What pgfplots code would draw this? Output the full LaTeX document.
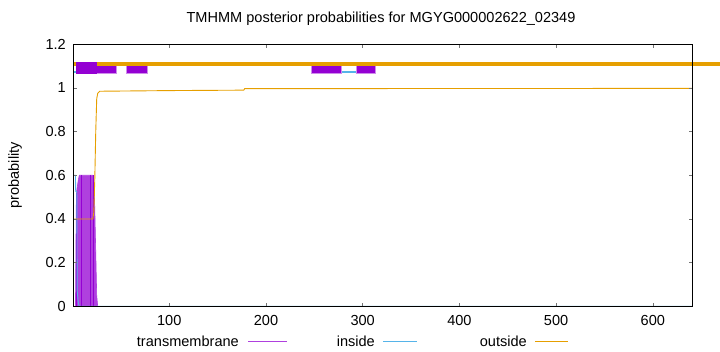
\documentclass[border=0pt]{standalone}
\usepackage{pgfplots}
\pgfplotsset{compat=1.18}
\usepackage{fontspec}
\setmainfont{Liberation Sans}
\definecolor{tmcol}{HTML}{AF40DE}
\definecolor{tmdark}{HTML}{9400D3}
\definecolor{incol}{HTML}{56B4E9}
\definecolor{outcol}{HTML}{E69F00}
\newcommand\f{\fontsize{14.6}{17.5}\selectfont}
\begin{document}
\begin{tikzpicture}[font=\f]
\path[use as bounding box] (-73.5bp,-45.7bp) rectangle (646.5bp,306.3bp);
\begin{axis}[
  at={(0,0)}, anchor=south west,
  scale only axis, width=619bp, height=262bp,
  xmin=1, xmax=641, ymin=0, ymax=1.2,
  xtick={100,200,300,400,500,600},
  ytick={0,0.2,0.4,0.6,0.8,1,1.2},
  tick align=inside, major tick length=3.5bp,
  tick style={black!55, line width=0.6bp},
  axis line style={black, line width=0.9bp},
  /pgf/number format/assume math mode=true,
  /pgf/number format/fixed,
  yticklabel style={inner sep=0pt, xshift=-7.5bp, font=\f},
  xticklabel style={inner sep=0pt, yshift=-9bp, font=\f},
  clip=false, axis on top=true,
]
% transmembrane posterior
\addplot[fill=tmcol, draw=tmcol, line width=0.6bp] coordinates {
 (3,0) (4,0.52) (5,0.55) (6,0.58) (7,0.6) (21,0.6) (22,0.58) (23,0.45) (24,0.25) (25,0.05) (26,0)
} \closedcycle;
\addplot[ycomb, draw=tmdark, line width=0.6bp] coordinates {(4.3,0.52) (9.4,0.6) (18.3,0.6) (21.5,0.6)};
\addplot[tmcol, line width=0.8bp] coordinates {(26,0) (641,0)};
% inside posterior
\addplot[incol, line width=0.9bp] coordinates {
 (1,0.6) (3,0.6) (3.3,0.526) (4.4,0.526) (4.8,0.07) (6,0.015) (7,0) (641,0)
};
% outside posterior
\addplot[outcol, line width=0.9bp] coordinates {
 (1,0.4) (4,0.4) (21,0.4) (22,0.43) (23,0.58) (24,0.8) (25,0.95) (26,0.975) (28,0.985) (100,0.988) (177,0.99) (178,0.997) (641,0.998)
};
% inside line at top
\addplot[incol, line width=2bp] coordinates {(1,1.073) (4.2,1.073)};
\addplot[incol, line width=2bp] coordinates {(277.5,1.073) (293.7,1.073)};
% TM boxes below the outside bar
\addplot[fill=tmdark, draw=tmcol!60, line width=0.6bp] coordinates {(24.2,1.069) (44.9,1.069) (44.9,1.102) (24.2,1.102)} --cycle;
\addplot[fill=tmdark, draw=tmcol!60, line width=0.6bp] coordinates {(55.9,1.069) (77.7,1.069) (77.7,1.102) (55.9,1.102)} --cycle;
\addplot[fill=tmdark, draw=tmcol!60, line width=0.6bp] coordinates {(246.5,1.069) (277.5,1.069) (277.5,1.102) (246.5,1.102)} --cycle;
\addplot[fill=tmdark, draw=tmcol!60, line width=0.6bp] coordinates {(293.7,1.069) (312.7,1.069) (312.7,1.102) (293.7,1.102)} --cycle;
% outside bar
\addplot[outcol, line width=4bp] coordinates {(1,1.111) (669.5,1.111)};
% predicted TM box
\addplot[fill=tmdark, draw=tmdark, line width=0.4bp] coordinates {(4.2,1.069) (24.2,1.069) (24.2,1.117) (4.2,1.117)} --cycle;
\end{axis}
% title and labels
\node[anchor=base] at (307.5bp,283.3bp) {TMHMM posterior probabilities for MGYG000002622\_02349};
\node[rotate=90] at (-58.5bp,131bp) {probability};
% legend
\node[anchor=base east, inner sep=0pt] at (165.5bp,-39.7bp) {transmembrane};
\draw[tmcol, line width=0.9bp] (174.5bp,-34.7bp) -- (213.5bp,-34.7bp);
\node[anchor=base east, inner sep=0pt] at (301.5bp,-39.7bp) {inside};
\draw[incol, line width=0.9bp] (309.5bp,-34.7bp) -- (343.5bp,-34.7bp);
\node[anchor=base east, inner sep=0pt] at (453.5bp,-39.7bp) {outside};
\draw[outcol, line width=0.9bp] (461.5bp,-34.7bp) -- (494.5bp,-34.7bp);
\end{tikzpicture}
\end{document}
